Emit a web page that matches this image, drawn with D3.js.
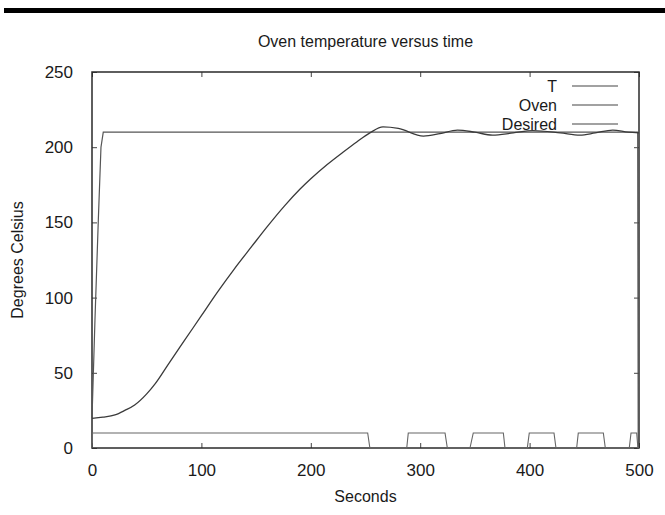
<!DOCTYPE html>
<html lang="en">
<head>
    <meta charset="UTF-8">
    <title>Oven temperature versus time</title>
    <script src="https://d3js.org/d3.v7.min.js"></script>
    <style>
        html, body { margin: 0; padding: 0; background: #fff; }
        #chart { width: 665px; height: 515px; }
        text { font-family: "Liberation Sans", Arial, sans-serif; fill: #1a1a1a; }
    </style>
</head>
<body>
    <div id="chart"></div>

    <script>
        // Data
        const seriesNames = ["T", "Oven", "Desired"];

        // T: measured temperature (slow curve)
        const tSeconds = [0, 10, 21, 30, 39, 50, 58, 70, 85, 100, 115, 130, 146, 160, 176, 190, 200, 215, 230, 242, 254, 266, 280, 303, 318, 334, 350, 366, 385, 403, 428, 446, 460, 476, 490, 500];
        const tValues  = [19.7, 20.5, 22, 25, 28.6, 36, 43, 56, 72, 88, 104, 119, 134, 147, 161, 172, 179, 188.5, 197, 203.5, 209.5, 213.5, 212.5, 207.4, 209, 211.4, 210, 208, 209.5, 211, 209.5, 208, 209.5, 211.4, 210, 209.5];

        // Oven: heater on/off
        const ovenSeconds = [0, 0.5, 252, 254, 287.7, 289.1, 322.7, 324.8, 345.5, 348.5, 376, 377.5, 397.9, 399.7, 422.3, 424.1, 443, 444.5, 467.4, 469.2, 491.1, 492.7, 497.9, 499, 500];
        const ovenValues  = [0, 10, 10, 0, 0, 10, 10, 0, 0, 10, 10, 0, 0, 10, 10, 0, 0, 10, 10, 0, 0, 10, 10, 0, 0];

        // Desired: setpoint
        const desiredSeconds = [0, 2.7, 5.8, 8.2, 10.3, 498.8, 499.3];
        const desiredValues  = [20, 85, 152, 200, 210, 210, 0];

        const xTicks = [0, 100, 200, 300, 400, 500];
        const yTicks = [0, 50, 100, 150, 200, 250];

        const W = 665, H = 515;
        const margin = {top: 72, right: 26, bottom: 67, left: 92};
        const width = W - margin.left - margin.right;
        const height = H - margin.top - margin.bottom;

        const root = d3.select("#chart").append("svg")
            .attr("width", W)
            .attr("height", H);

        // black bar across the top of the scan
        root.append("rect")
            .attr("x", 4).attr("y", 8)
            .attr("width", W - 4).attr("height", 5)
            .attr("fill", "#000");

        const svg = root.append("g")
            .attr("transform", `translate(${margin.left},${margin.top})`);

        const x = d3.scaleLinear().domain([0, 500]).range([0, width]);
        const y = d3.scaleLinear().domain([0, 250]).range([height, 0]);

        // inward ticks on all four sides, gnuplot style
        const tickLen = 5;
        svg.append("g")
            .attr("transform", `translate(0,${height})`)
            .call(d3.axisBottom(x).tickValues(xTicks).tickSize(-tickLen).tickPadding(16))
            .call(g => g.select(".domain").remove())
            .selectAll("text").style("font-size", "17px");
        svg.append("g")
            .call(d3.axisTop(x).tickValues(xTicks).tickSize(-tickLen).tickFormat(""))
            .call(g => g.select(".domain").remove());
        svg.append("g")
            .call(d3.axisLeft(y).tickValues(yTicks).tickSize(-tickLen).tickPadding(19))
            .call(g => g.select(".domain").remove())
            .selectAll("text").style("font-size", "17px");
        svg.append("g")
            .attr("transform", `translate(${width},0)`)
            .call(d3.axisRight(y).tickValues(yTicks).tickSize(-tickLen).tickFormat(""))
            .call(g => g.select(".domain").remove());
        svg.selectAll(".tick line").attr("stroke", "#444");

        // border
        svg.append("rect")
            .attr("width", width).attr("height", height)
            .attr("fill", "none")
            .attr("stroke", "#2a2a2a")
            .attr("stroke-width", 1.5);

        const plot = svg.append("g");

        const lineT = d3.line().x(d => x(d[0])).y(d => y(d[1])).curve(d3.curveMonotoneX);
        const lineStep = d3.line().x(d => x(d[0])).y(d => y(d[1]));

        plot.append("path")
            .datum(d3.zip(desiredSeconds, desiredValues))
            .attr("d", lineStep)
            .attr("fill", "none").attr("stroke", "#555").attr("stroke-width", 1.2);

        plot.append("path")
            .datum(d3.zip(ovenSeconds, ovenValues))
            .attr("d", lineStep)
            .attr("fill", "none").attr("stroke", "#666").attr("stroke-width", 1.1);

        plot.append("path")
            .datum(d3.zip(tSeconds, tValues))
            .attr("d", lineT)
            .attr("fill", "none").attr("stroke", "#3a3a3a").attr("stroke-width", 1.3);

        // legend
        const legend = svg.append("g");
        seriesNames.forEach((name, i) => {
            const ly = 14 + i * 19;
            legend.append("text")
                .attr("x", 465).attr("y", ly)
                .attr("dy", "0.35em")
                .attr("text-anchor", "end")
                .style("font-size", "16px")
                .text(name);
            legend.append("line")
                .attr("x1", 480).attr("x2", 526)
                .attr("y1", ly).attr("y2", ly)
                .attr("stroke", "#444").attr("stroke-width", 1.2);
        });

        // title and axis labels
        root.append("text")
            .attr("x", margin.left + width / 2)
            .attr("y", 47)
            .attr("text-anchor", "middle")
            .style("font-size", "16px")
            .text("Oven temperature versus time");

        root.append("text")
            .attr("x", margin.left + width / 2)
            .attr("y", 502)
            .attr("text-anchor", "middle")
            .style("font-size", "16px")
            .text("Seconds");

        root.append("text")
            .attr("transform", `translate(23,${margin.top + height / 2}) rotate(-90)`)
            .attr("text-anchor", "middle")
            .style("font-size", "16px")
            .text("Degrees Celsius");
    </script>
</body>
</html>
